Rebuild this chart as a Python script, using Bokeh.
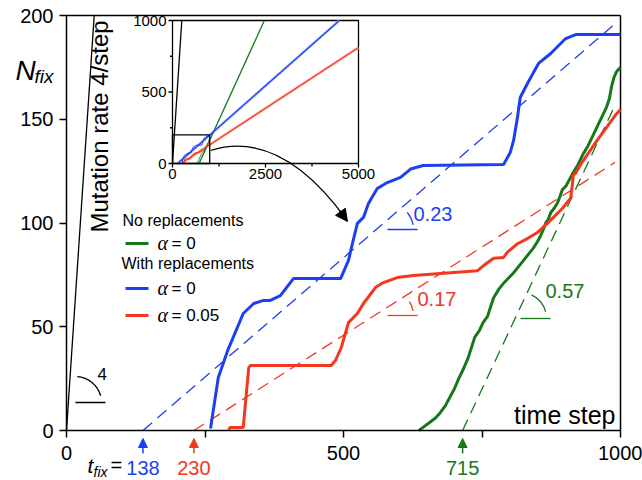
import math
from bokeh.plotting import figure
from bokeh.models import Range1d, FixedTicker, Label, Arrow, NormalHead
from bokeh.embed import file_html
from bokeh.resources import INLINE
from bokeh.core.properties import value

# ---------------- data ----------------
blue_t = [260, 274, 291, 319, 338, 356, 368, 386, 410, 495, 509, 516, 525, 536, 545, 561, 579,
          603, 621, 644, 789, 801, 807, 814, 819, 832, 852, 874, 901, 919, 1000]
blue_n = [1, 25.5, 38.6, 56.4, 61.2, 62.7, 62.7, 65, 73.3, 73.3, 82, 90, 99.8, 102.7, 109.4, 116.6, 119.5,
          122, 126, 127.7, 128.2, 134, 139.8, 150.8, 160.5, 167.2, 176.9, 181.7, 188.9, 190.8, 190.8]

red_t = [292, 296, 319, 329, 332, 478, 486, 496, 509, 525, 536, 558, 572, 597, 626, 675, 742, 753,
         771, 789, 796, 814, 832, 850, 868, 879, 895, 904, 910, 912, 915, 919, 930, 960, 991, 1000]
red_n = [0.5, 1.5, 1.5, 30.4, 31.3, 31.3, 34, 40, 52, 56.4, 61.2, 69, 71.3, 73.7, 74.7, 75.7, 77, 79.5,
         83, 83.4, 86, 90, 92.5, 95.4, 99.8, 102.7, 107, 110, 112, 116, 123, 124, 129, 140.7, 152, 154.7]

green_t = [636, 646, 656, 666, 675, 684, 692, 700, 708, 717, 725, 731, 737, 745, 752, 760, 766, 771,
           780, 789, 798, 807, 816, 825, 834, 843, 850, 856, 861, 865, 870, 874, 880, 886, 891, 895,
           902, 908, 914, 923, 932, 941, 950, 959, 968, 975, 980, 984, 988, 993, 1000]
green_n = [0, 2, 4, 6, 8.7, 12, 16, 20, 25, 30, 35, 40, 45, 48, 52, 55, 60, 64,
           68, 71, 73.5, 76, 79, 82, 85, 88, 91, 94, 97, 100, 102, 105, 107, 109.5, 113, 116,
           118, 121, 124, 128, 133, 137, 142, 147, 152, 156, 160, 166, 170, 173, 175]

t_fix = {"blue": 138, "red": 230, "green": 715}
slopes = {"blue": 0.23, "red": 0.17, "green": 0.57}
slope_labels = {"blue": "0.23", "red": "0.17", "green": "0.57"}
mutation_rate = 4

x_ticks = [0, 250, 500, 750, 1000]
x_tick_labels = ["0", "", "500", "", "1000"]
y_ticks = [0, 50, 100, 150, 200]

inset_x_major = [0, 2500, 5000]
inset_x_minor = [1250, 3750]
inset_y_major = [0, 500, 1000]
inset_y_minor = [250, 750]

BLUE = "#1c3ff2"
RED = "#f2381e"
GREEN = "#17781a"
FONT = "Liberation Sans"

# ---------------- geometry (page pixels) ----------------
W, H = 642, 480
FL, FR, FT, FB = 66, 620, 15, 430
X0, X1, Y0, Y1 = 0, 1000, 0, 200


def X(px):
    return X0 + (px - FL) * (X1 - X0) / (FR - FL)


def Y(py):
    return Y0 + (FB - py) * (Y1 - Y0) / (FB - FT)


# the plot frame spans the whole canvas; the axes are pinned at 0
p = figure(width=W, height=H, x_range=Range1d(X(0), X(W)), y_range=Range1d(Y(H), Y(0)),
           output_backend="svg", toolbar_location=None,
           min_border_left=0, min_border_right=0, min_border_top=0, min_border_bottom=0)
p.background_fill_color = "white"
p.border_fill_color = "white"
p.grid.visible = False
p.outline_line_color = None

p.xaxis.ticker = FixedTicker(ticks=x_ticks, minor_ticks=[])
p.xaxis.major_label_overrides = {t: l for t, l in zip(x_ticks, x_tick_labels)}
p.yaxis.ticker = FixedTicker(ticks=y_ticks, minor_ticks=[])
p.xaxis.fixed_location = Y0
p.yaxis.fixed_location = X0
p.xaxis.bounds = (X0, X1)
p.yaxis.bounds = (Y0, Y1)
for ax in (p.xaxis[0], p.yaxis[0]):
    ax.axis_line_width = 1.5
    ax.major_tick_line_width = 1.5
    ax.major_tick_in = 0
    ax.major_tick_out = 7
    ax.minor_tick_out = 0
    ax.major_label_text_font = FONT
    ax.major_label_text_font_size = "20px"
    ax.major_label_text_color = "black"
p.xaxis.major_label_standoff = 8
p.yaxis.major_label_standoff = 6

# top and right border of the main panel
p.segment(x0=[X0, X1], y0=[Y1, Y0], x1=[X1, X1], y1=[Y1, Y1], line_color="black", line_width=1.5)


def lab(px, base_py, txt, size, color="black", align="left", style="normal", font=FONT, xdata=None):
    """Text whose alphabetic baseline sits at page row base_py (placed by its middle)."""
    ymid = base_py - 0.35 * size
    p.add_layout(Label(x=X(px) if xdata is None else xdata, y=Y(ymid), text=txt, text_font=font,
                       text_font_size=f"{size}px", text_font_style=style, text_color=color,
                       text_align=align, text_baseline="middle"))


# ---------------- main lines ----------------
p.line([0, Y1 / mutation_rate], [0, Y1], line_color="black", line_width=1.3)

for key, col in (("blue", BLUE), ("red", RED), ("green", GREEN)):
    t0, s = t_fix[key], slopes[key]
    xe = min(X1 - 10, t0 + (Y1 - 3) / s)
    p.line([t0, xe], [0, s * (xe - t0)], line_color=col, line_width=1.3, line_dash="12 7")

p.line(green_t, green_n, line_color=GREEN, line_width=3)
p.line(red_t, red_n, line_color=RED, line_width=3)
p.line(blue_t, blue_n, line_color=BLUE, line_width=3)

# slope markers
sx = (FR - FL) / (X1 - X0)
sy = (FB - FT) / (Y1 - Y0)


def slope_mark(cx, cy, ang_start, ang_end, col, txt, tx, ty, size=20):
    p.segment(x0=[X(cx)], y0=[Y(cy)], x1=[X(cx + 30)], y1=[Y(cy)], line_color=col, line_width=1.3)
    p.arc(x=[X(cx)], y=[Y(cy)], radius=26, radius_units="screen",
          start_angle=ang_start, end_angle=ang_end, line_color=col, line_width=1.3)
    lab(tx, ty, txt, size, color=col)


ang = {k: math.atan(v * sy / sx) for k, v in slopes.items()}
slope_mark(387, 229, math.radians(10), ang["blue"], BLUE, slope_labels["blue"], 413, 220)
slope_mark(387, 315, math.radians(10), ang["red"], RED, slope_labels["red"], 417, 305)
slope_mark(520, 318, math.radians(15), ang["green"], GREEN, slope_labels["green"], 545, 297)
slope_mark(75, 402, math.radians(15), math.atan(mutation_rate * sy / sx), "black",
           str(mutation_rate), 97, 379, size=17)

# mutation rate text (rotated)
p.add_layout(Label(x=X(99), y=Y(232), text="Mutation rate 4/step", angle=math.pi / 2,
                   text_font=FONT, text_font_size="24px", text_color="black",
                   text_align="left", text_baseline="middle"))

# time step label
lab(615, 423, "time step", 25, align="right")

# N_fix label
lab(15, 80, "N", 28, style="italic")
lab(34, 83, "fix", 19, style="italic")

# legend
def leg_item(ly, col, txt):
    p.segment(x0=[X(125)], y0=[Y(ly)], x1=[X(148)], y1=[Y(ly)], line_color=col, line_width=3)
    lab(157, ly + 6, "α", 20, style="italic", font="Liberation Serif")
    lab(171, ly + 6, txt, 17)


lab(122, 226, "No replacements", 16)
leg_item(243, GREEN, "= 0")
lab(121, 269, "With replacements", 16)
leg_item(288, BLUE, "= 0")
leg_item(315, RED, "= 0.05")

# ---------------- inset ----------------
IL, IR, IT, IB = 172, 358, 20, 163
ins = p.subplot(x_source=Range1d(0, 5000), y_source=Range1d(0, 1000),
                x_target=Range1d(X(IL), X(IR)), y_target=Range1d(Y(IB), Y(IT)))
ux = 5000 / (IR - IL)
uy = 1000 / (IB - IT)

ins.quad(left=[0], right=[5000], bottom=[0], top=[1000], fill_color="white",
         line_color="black", line_width=1.3)

for key, col, faint in (("blue", BLUE, "#b4c1f7"), ("red", RED, "#f7bcae")):
    t0, s = t_fix[key], slopes[key]
    xe = min(5000, t0 + 1000 / s)
    ins.line([t0, xe], [0, s * (xe - t0)], line_color=faint, line_width=3, line_alpha=0.8)

ins.line([0, 1000 / mutation_rate], [0, 1000], line_color="black", line_width=1.3)
for key, col in (("green", GREEN), ("blue", BLUE), ("red", RED)):
    t0, s = t_fix[key], slopes[key]
    xe = min(5000, t0 + 1000 / s)
    ins.line([t0, xe], [0, s * (xe - t0)], line_color=col, line_width=1.3)
ins.line(green_t, green_n, line_color=GREEN, line_width=1)
ins.line(blue_t, blue_n, line_color=BLUE, line_width=1)
ins.line(red_t, red_n, line_color=RED, line_width=1)

ins.quad(left=[X0], right=[X1], bottom=[Y0], top=[Y1], fill_alpha=0, line_color="black", line_width=1.3)

ins.segment(x0=[0] * 3, y0=inset_y_major, x1=[-4 * ux] * 3, y1=inset_y_major, line_color="black", line_width=1.3)
ins.segment(x0=[0] * 2, y0=inset_y_minor, x1=[-2.5 * ux] * 2, y1=inset_y_minor, line_color="black", line_width=1.3)
ins.segment(x0=inset_x_major, y0=[0] * 3, x1=inset_x_major, y1=[-4 * uy] * 3, line_color="black", line_width=1.3)
ins.segment(x0=inset_x_minor, y0=[0] * 2, x1=inset_x_minor, y1=[-3 * uy] * 2, line_color="black", line_width=1.3)
ins.text(x=[-6 * ux] * 3, y=inset_y_major, text=[str(v) for v in inset_y_major],
         text_font=value(FONT), text_font_size="15px", text_align="right", text_baseline="middle",
         text_color="black")
ins.text(x=inset_x_major, y=[-5 * uy] * 3, text=[str(v) for v in inset_x_major],
         text_font=value(FONT), text_font_size="15px", text_align="center", text_baseline="top",
         text_color="black")

# curved arrow from inset to main
p.quadratic(x0=[X(210)], y0=[Y(150)], x1=[X(346)], y1=[Y(219)], cx=[X(280)], cy=[Y(128)],
            line_color="black", line_width=1.3)
p.add_layout(Arrow(end=NormalHead(size=12, fill_color="black", line_color="black"),
                   x_start=X(339), y_start=Y(210), x_end=X(347), y_end=Y(221),
                   line_color="black", line_width=1.3))

# ---------------- t_fix annotations below axis ----------------
for key, col in (("blue", BLUE), ("red", RED), ("green", GREEN)):
    t0 = t_fix[key]
    p.add_layout(Arrow(end=NormalHead(size=9, fill_color=col, line_color=col),
                       x_start=t0, y_start=Y(453), x_end=t0, y_end=Y(438),
                       line_color=col, line_width=1.5))
    lab(0, 474, str(t0), 20, color=col, align="center", xdata=t0)

lab(87, 472, "t", 21, style="italic")
lab(93, 476, "fix", 14, style="italic")
lab(110, 471, "=", 20)

open("out.html", "w").write(file_html(p, INLINE))
